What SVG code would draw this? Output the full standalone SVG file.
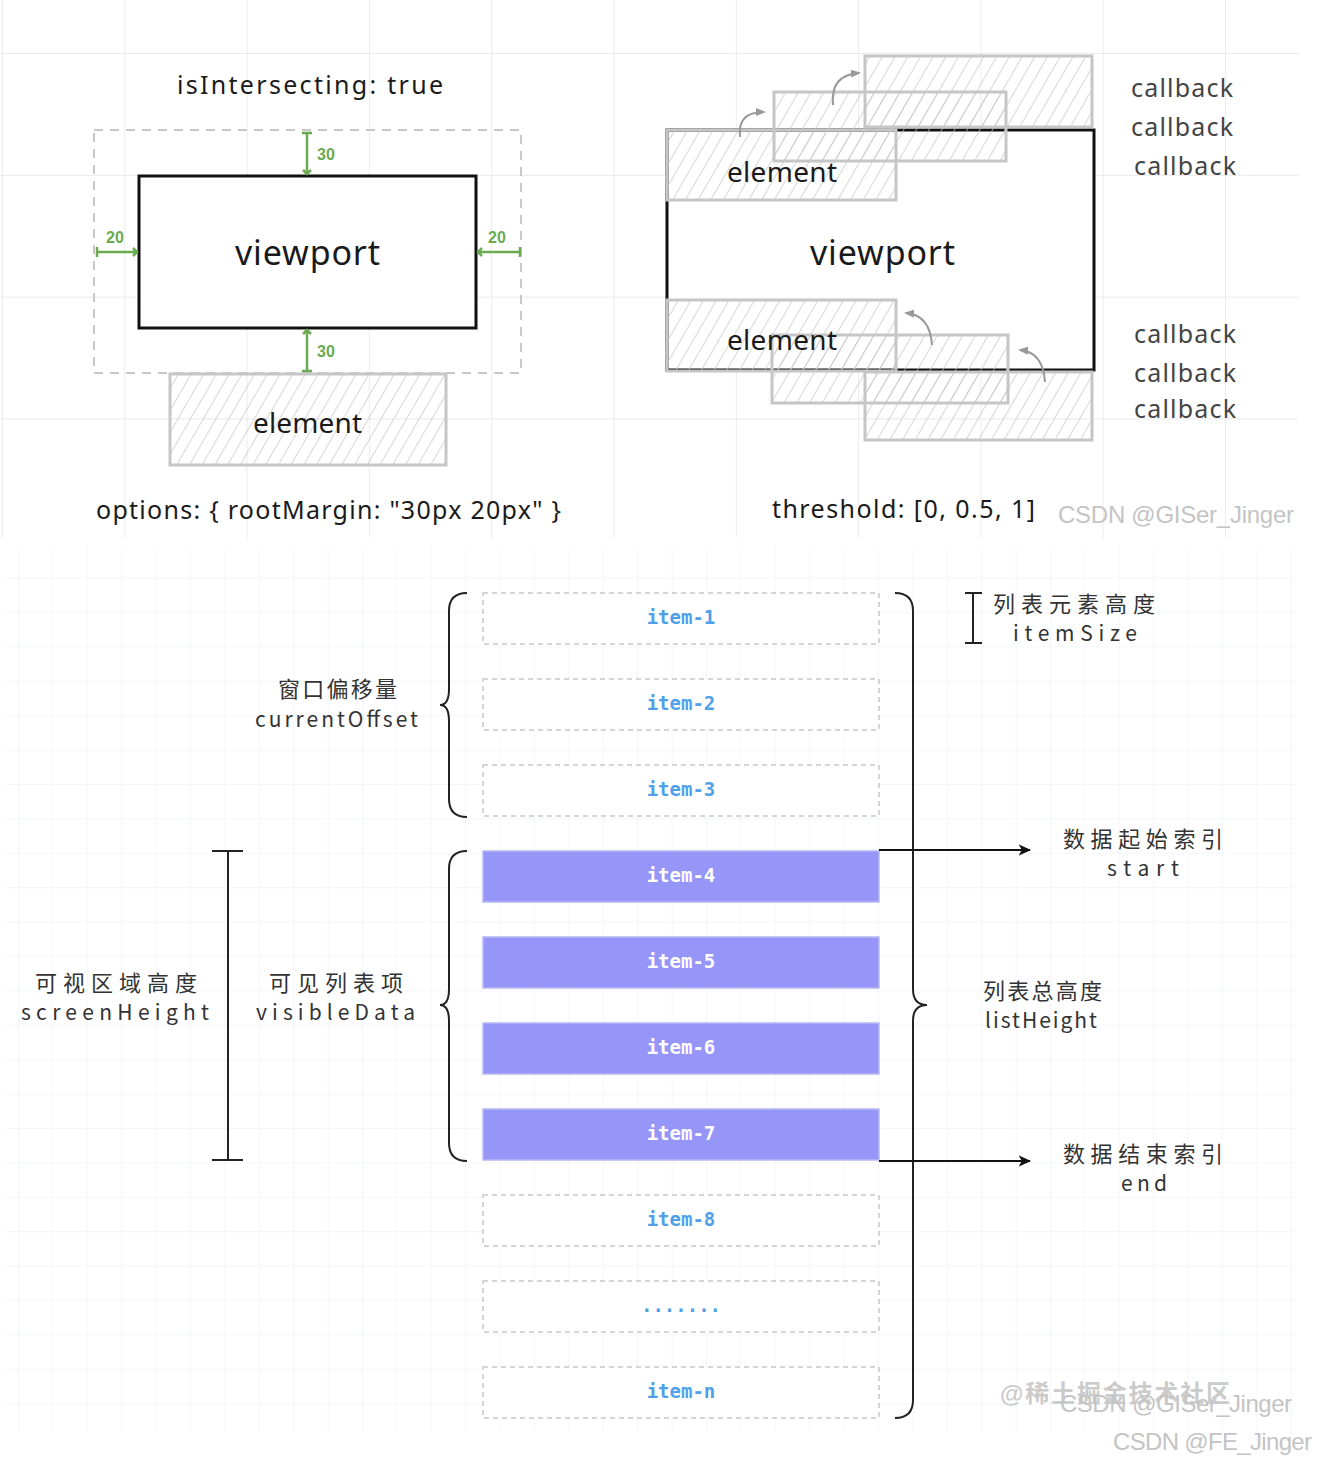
<svg xmlns="http://www.w3.org/2000/svg" width="1317" height="1464" viewBox="0 0 1317 1464">
<style>
.hand{font-family:"Noto Sans","Liberation Sans",sans-serif;fill:#1a1a1a}
.cb{font-family:"Noto Sans","Liberation Sans",sans-serif;fill:#444;font-size:25px}
.green{fill:none;stroke:#6aaa50;stroke-width:2.5}
.gtxt{font-family:"Liberation Sans",sans-serif;font-weight:bold;font-size:16px;fill:#6aaa50}
.hatch{fill:url(#hatch);stroke:#c6c6c6;stroke-width:3}
.wm{font-family:"Liberation Sans","Noto Sans CJK SC",sans-serif;fill:#c4c4c4}
.lbl{font-family:"Noto Sans CJK SC","Noto Sans",sans-serif;fill:#333;font-size:21px}
.cjk{font-family:"Noto Sans CJK SC",sans-serif;fill:#333;font-size:22px}
.dash{fill:#fff;stroke:#c8c8c8;stroke-width:1.5;stroke-dasharray:5 4}
.fill{fill:#9696f8;stroke:#b8b8f4;stroke-width:1.5}
.itxt{font-family:"DejaVu Sans Mono","Liberation Mono",monospace;font-weight:bold;font-size:19px;fill:#4fa0e8;text-anchor:middle}
.wtxt{fill:#fff}
.brace{fill:none;stroke:#222;stroke-width:2}
.arr{fill:none;stroke:#999;stroke-width:2}
</style>
<defs>
<pattern id="gridTop" patternUnits="userSpaceOnUse" x="2" y="53" width="122.3" height="121.8">
<path d="M0,0 V121.8 M0,0 H122.3" fill="none" stroke="#e2e2e2" stroke-width="1.3"/>
</pattern>
<pattern id="gridBot" patternUnits="userSpaceOnUse" x="18" y="27.2" width="34.4" height="34.4">
<path d="M0,0 V34.4 M0,0 H34.4" fill="none" stroke="#e9eef6" stroke-width="1"/>
</pattern>
<pattern id="hatch" patternUnits="userSpaceOnUse" width="11" height="11" patternTransform="rotate(30)">
<line x1="0" y1="0" x2="0" y2="11" stroke="#c4c4c4" stroke-width="1.4"/>
</pattern>
<marker id="garrow" viewBox="0 0 10 10" refX="8" refY="5" markerWidth="5" markerHeight="5" orient="auto">
<path d="M0,1 L10,5 L0,9 z" fill="#999"/>
</marker>
<marker id="barrow" viewBox="0 0 10 10" refX="9" refY="5" markerWidth="7" markerHeight="7" orient="auto">
<path d="M0,0.5 L10,5 L0,9.5 L2.5,5 z" fill="#111"/>
</marker>
</defs>

<!-- backgrounds -->
<rect x="0" y="0" width="1317" height="1464" fill="#fff"/>
<rect x="0" y="0" width="1298" height="538" fill="url(#gridTop)"/>
<rect x="5" y="548" width="1290" height="884" fill="url(#gridBot)"/>

<!-- ===== top-left: rootMargin ===== -->
<g id="title-left">
<text class="hand" x="177" y="94" font-size="25" textLength="266">isIntersecting:  true</text>
</g>
<g id="root-margin-box">
<rect x="94" y="130" width="427" height="243" fill="none" stroke="#c8c8c8" stroke-width="2" stroke-dasharray="9 7"/>
</g>
<g id="viewport-left">
<rect x="139" y="176" width="337" height="152" fill="#fff" stroke="#111" stroke-width="3"/>
<text class="hand" x="307.5" y="265" font-size="34" text-anchor="middle" textLength="145">viewport</text>
</g>
<g id="margins">
<path class="green" d="M307,133 V174 M302,133 H312 M303,170 L307,174 L311,170"/>
<text class="gtxt" x="317" y="160">30</text>
<path class="green" d="M307,330 V371 M302,371 H312 M303,334 L307,330 L311,334"/>
<text class="gtxt" x="317" y="357">30</text>
<path class="green" d="M97,252 H137 M97,247 V257 M133,248 L137,252 L133,256"/>
<text class="gtxt" x="106" y="243">20</text>
<path class="green" d="M478,252 H520 M520,247 V257 M482,248 L478,252 L482,256"/>
<text class="gtxt" x="488" y="243">20</text>
</g>
<g id="element-left">
<rect class="hatch" x="170" y="374" width="276" height="91"/>
<text class="hand" x="307.5" y="433" font-size="28" text-anchor="middle" textLength="109">element</text>
</g>
<g id="options-caption">
<text class="hand" x="96" y="519" font-size="25" textLength="465">options: { rootMargin: "30px 20px" }</text>
</g>

<!-- ===== top-right: threshold ===== -->
<g id="viewport-right">
<rect x="667" y="130" width="427" height="240" fill="#fff" stroke="#111" stroke-width="3"/>
<text class="hand" x="882.5" y="265" font-size="34" text-anchor="middle" textLength="145">viewport</text>
</g>
<g id="elements-top">
<rect class="hatch" x="865" y="56" width="227" height="71"/>
<rect class="hatch" x="774" y="92" width="232" height="69"/>
<rect class="hatch" x="667" y="130" width="229" height="70"/>
<text class="hand" x="727" y="182" font-size="28" textLength="110">element</text>
</g>
<g id="elements-bottom">
<rect class="hatch" x="865" y="372" width="227" height="68"/>
<rect class="hatch" x="772" y="335" width="236" height="68"/>
<rect class="hatch" x="667" y="300" width="229" height="71"/>
<text class="hand" x="727" y="350" font-size="28" textLength="110">element</text>
</g>
<g id="callbacks">
<text class="cb" x="1131" y="97" textLength="102">callback</text>
<text class="cb" x="1131" y="136" textLength="102">callback</text>
<text class="cb" x="1134" y="175" textLength="102">callback</text>
<text class="cb" x="1134" y="343" textLength="102">callback</text>
<text class="cb" x="1134" y="382" textLength="102">callback</text>
<text class="cb" x="1134" y="418" textLength="102">callback</text>
</g>
<g id="threshold-caption">
<text class="hand" x="772" y="518" font-size="25" textLength="263">threshold: [0, 0.5, 1]</text>
<text class="wm" x="1058" y="523" font-size="24" textLength="236">CSDN @GISer_Jinger</text>
</g>

<!-- ===== bottom: virtual list ===== -->
<g id="item-1"><rect class="dash" x="483" y="593" width="396" height="51"/><text class="itxt" x="681" y="624">item-1</text></g>
<g id="item-2"><rect class="dash" x="483" y="679" width="396" height="51"/><text class="itxt" x="681" y="710">item-2</text></g>
<g id="item-3"><rect class="dash" x="483" y="765" width="396" height="51"/><text class="itxt" x="681" y="796">item-3</text></g>
<g id="item-4"><rect class="fill" x="483" y="851" width="396" height="51"/><text class="itxt wtxt" x="681" y="882">item-4</text></g>
<g id="item-5"><rect class="fill" x="483" y="937" width="396" height="51"/><text class="itxt wtxt" x="681" y="968">item-5</text></g>
<g id="item-6"><rect class="fill" x="483" y="1023" width="396" height="51"/><text class="itxt wtxt" x="681" y="1054">item-6</text></g>
<g id="item-7"><rect class="fill" x="483" y="1109" width="396" height="51"/><text class="itxt wtxt" x="681" y="1140">item-7</text></g>
<g id="item-8"><rect class="dash" x="483" y="1195" width="396" height="51"/><text class="itxt" x="681" y="1226">item-8</text></g>
<g id="item-more"><rect class="dash" x="483" y="1281" width="396" height="51"/><text class="itxt" x="681" y="1312">.......</text></g>
<g id="item-n"><rect class="dash" x="483" y="1367" width="396" height="51"/><text class="itxt" x="681" y="1398">item-n</text></g>

<g id="connectors">
<path class="arr" d="M740,137 Q737,112 764,112" marker-end="url(#garrow)"/>
<path class="arr" d="M833,105 Q830,75 859,73" marker-end="url(#garrow)"/>
<path class="arr" d="M932,345 Q930,315 906,313" marker-end="url(#garrow)"/>
<path class="arr" d="M1045,382 Q1043,352 1020,350" marker-end="url(#garrow)"/>
<path class="brace" d="M467,593 Q449,593 449,611 L449,689 Q449,705 440,705 Q449,705 449,721 L449,799 Q449,817 467,817"/>
<path class="brace" d="M467,851 Q449,851 449,869 L449,989 Q449,1005 440,1005 Q449,1005 449,1021 L449,1143 Q449,1161 467,1161"/>
<path class="brace" d="M895,593 Q913,593 913,611 L913,989 Q913,1005 927,1005 Q913,1005 913,1021 L913,1400 Q913,1418 895,1418"/>
<path d="M879,850 H1030" stroke="#111" stroke-width="1.8" marker-end="url(#barrow)"/>
<path d="M879,1161 H1030" stroke="#111" stroke-width="1.8" marker-end="url(#barrow)"/>
<path d="M973,593 V643 M965,593 H982 M965,643 H982" stroke="#222" stroke-width="2" fill="none"/>
<path d="M228,851 V1160 M212,851 H243 M212,1160 H243" stroke="#222" stroke-width="2" fill="none"/>
</g>

<g id="label-itemsize">
<text class="cjk" x="993" y="612" textLength="162">列表元素高度</text>
<text class="lbl" x="1013" y="641" textLength="124">itemSize</text>
</g>
<g id="label-offset">
<text class="cjk" x="278" y="697" textLength="119">窗口偏移量</text>
<text class="lbl" x="255" y="727" textLength="163">currentOffset</text>
</g>
<g id="label-screen">
<text class="cjk" x="35" y="991" textLength="162">可视区域高度</text>
<text class="lbl" x="21" y="1020" textLength="188">screenHeight</text>
</g>
<g id="label-visible">
<text class="cjk" x="269" y="991" textLength="134">可见列表项</text>
<text class="lbl" x="256" y="1020" textLength="159">visibleData</text>
</g>
<g id="label-start">
<text class="cjk" x="1063" y="847" textLength="160">数据起始索引</text>
<text class="lbl" x="1107" y="876" textLength="72">start</text>
</g>
<g id="label-end">
<text class="cjk" x="1063" y="1162" textLength="160">数据结束索引</text>
<text class="lbl" x="1121" y="1191" textLength="46">end</text>
</g>
<g id="label-listheight">
<text class="cjk" x="983" y="999" textLength="119">列表总高度</text>
<text class="lbl" x="985" y="1028" textLength="112">listHeight</text>
</g>
<g id="watermarks">
<text class="wm" x="1000" y="1402" font-size="24" font-weight="bold" textLength="230" fill-opacity="0.9">@稀土掘金技术社区</text>
<text class="wm" x="1060" y="1412" font-size="24" textLength="232">CSDN @GISer_Jinger</text>
<text class="wm" x="1113" y="1450" font-size="24" textLength="199">CSDN @FE_Jinger</text>
</g>
</svg>
